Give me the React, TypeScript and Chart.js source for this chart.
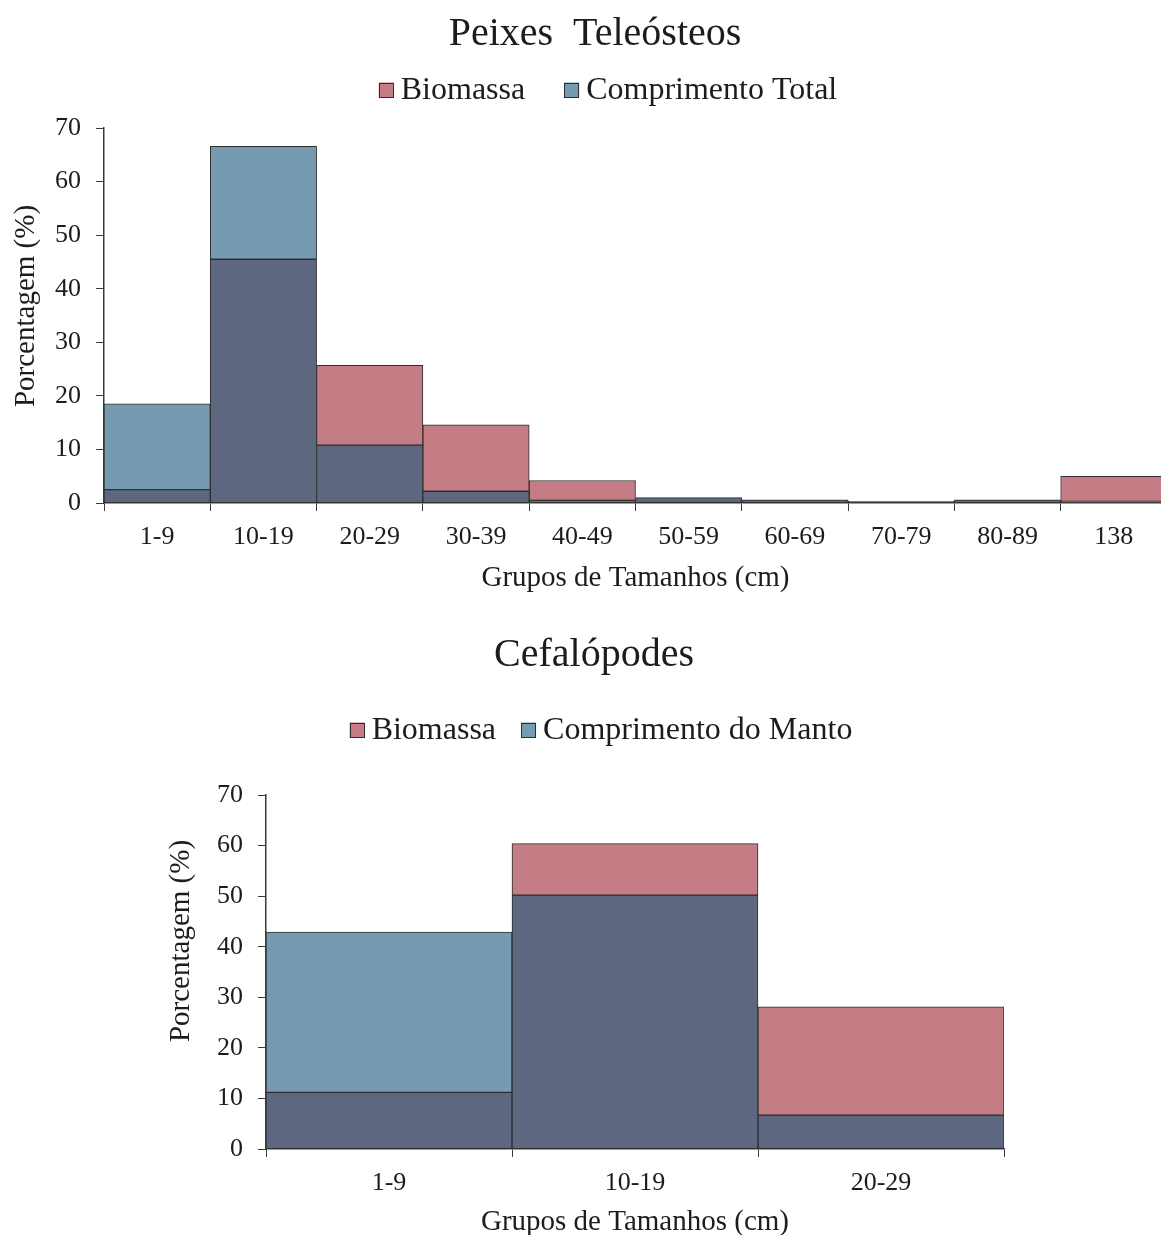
import { useEffect, useRef } from 'react';
import { Chart, registerables } from 'chart.js';

Chart.register(...registerables);

const SERIF = "'Liberation Serif', 'Times New Roman', serif";
const INK = '#1c1c1c';
const EDGE = '#2e2e2e';
const AXIS = '#3a3a3a';
const PINK = '#C47D84';
const BLUE = '#769AB0';
const OVERLAP = '#5E6780';

// Peixes teleósteos: size classes (cm) and percentages
const peixesGrupos = ['1-9', '10-19', '20-29', '30-39', '40-49', '50-59', '60-69', '70-79', '80-89', '138'];
const peixesBiomassa = [2.5, 45.5, 25.7, 14.6, 4.2, 1.0, 0.6, 0.3, 0.6, 5.0];
const peixesComprimento = [18.5, 66.6, 10.8, 2.2, 0.5, 1.0, 0.6, 0.3, 0.6, 0.3];

// Cefalópodes: size classes (cm) and percentages
const cefalGrupos = ['1-9', '10-19', '20-29'];
const cefalBiomassa = [11.2, 60.4, 28.1];
const cefalManto = [42.9, 50.2, 6.7];

const Y_MIN = 0;
const Y_MAX = 70;
const Y_STEP = 10;

// Two overlapping histograms: the shared part is drawn in a darker tone,
// the excess of each series on top in its own colour.
function overlapDatasets(bio: number[], len: number[], lenLabel: string) {
  const common = {
    borderColor: EDGE,
    borderWidth: 1,
    borderSkipped: false as const,
    barPercentage: 1,
    categoryPercentage: 1,
  };
  return [
    { ...common, label: 'Sobreposição', inLegend: false, backgroundColor: OVERLAP, data: bio.map((b, i) => Math.min(b, len[i])) },
    { ...common, label: 'Biomassa', backgroundColor: PINK, data: bio.map((b, i) => Math.max(b - len[i], 0)) },
    { ...common, label: lenLabel, backgroundColor: BLUE, data: len.map((c, i) => Math.max(c - bio[i], 0)) },
  ];
}

type Header = {
  title: string;
  titleX: number;
  titleY: number;
  legendX: number;
  legendY: number;
  legendGap: number;
  yTitle: string;
  yTitleX: number;
  yTitleY: number;
};

const headerPlugin = {
  id: 'cabecalho',
  afterDraw(chart: any, _args: any, opts: Header) {
    const ctx = chart.ctx as CanvasRenderingContext2D;
    ctx.save();
    ctx.fillStyle = INK;
    ctx.textBaseline = 'middle';

    ctx.font = `40px ${SERIF}`;
    ctx.textAlign = 'center';
    ctx.fillText(opts.title, opts.titleX, opts.titleY);

    // legend row
    ctx.font = `32px ${SERIF}`;
    ctx.textAlign = 'left';
    const items = chart.data.datasets.filter((d: any) => d.inLegend !== false);
    const box = 15;
    const boxGap = 7;
    const widths = items.map((d: any) => box + boxGap + ctx.measureText(d.label).width);
    const total = widths.reduce((a: number, b: number) => a + b, 0) + opts.legendGap * (items.length - 1);
    let x = opts.legendX - total / 2;
    items.forEach((d: any, i: number) => {
      ctx.fillStyle = d.backgroundColor;
      ctx.fillRect(x, opts.legendY - box / 2, box, box);
      ctx.strokeStyle = EDGE;
      ctx.lineWidth = 1;
      ctx.strokeRect(Math.round(x) + 0.5, Math.round(opts.legendY - box / 2) + 0.5, box - 1, box - 1);
      ctx.fillStyle = INK;
      ctx.fillText(d.label, x + box + boxGap, opts.legendY + 1);
      x += widths[i] + opts.legendGap;
    });

    // vertical axis title
    ctx.font = `29px ${SERIF}`;
    ctx.textAlign = 'center';
    ctx.translate(opts.yTitleX, opts.yTitleY);
    ctx.rotate(-Math.PI / 2);
    ctx.fillText(opts.yTitle, 0, 0);
    ctx.restore();
  },
};

type Spec = {
  labels: string[];
  datasets: any[];
  width: number;
  height: number;
  padding: { top: number; left: number; right: number; bottom: number };
  yWidth: number;
  xHeight: number;
  xTitlePad: number;
  xTickPad: number;
  header: Header;
};

function HistChart({ spec, top }: { spec: Spec; top: number }) {
  const ref = useRef<HTMLCanvasElement>(null);
  useEffect(() => {
    if (!ref.current) return;
    const chart = new Chart(ref.current, {
      type: 'bar',
      data: { labels: spec.labels, datasets: spec.datasets },
      plugins: [headerPlugin],
      options: {
        animation: false,
        responsive: false,
        devicePixelRatio: 1,
        layout: { padding: spec.padding },
        plugins: {
          legend: { display: false },
          title: { display: false },
          tooltip: { enabled: false },
          cabecalho: spec.header,
        } as any,
        scales: {
          x: {
            type: 'category',
            stacked: true,
            offset: true,
            grid: { offset: true, drawOnChartArea: false, drawTicks: true, tickLength: 8, color: AXIS, lineWidth: 1 },
            border: { display: true, color: AXIS, width: 1.5 },
            ticks: { color: INK, padding: spec.xTickPad, font: { family: SERIF, size: 26 }, maxRotation: 0, autoSkip: false },
            title: {
              display: true,
              text: 'Grupos de Tamanhos (cm)',
              color: INK,
              font: { family: SERIF, size: 29 },
              padding: { top: 0, bottom: spec.xTitlePad },
            },
            afterFit: (s: any) => {
              s.height = spec.xHeight;
            },
          },
          y: {
            type: 'linear',
            stacked: true,
            min: Y_MIN,
            max: Y_MAX,
            grid: { drawOnChartArea: false, drawTicks: true, tickLength: 8, color: AXIS, lineWidth: 1 },
            border: { display: true, color: AXIS, width: 1.5 },
            ticks: { stepSize: Y_STEP, color: INK, padding: 15, font: { family: SERIF, size: 26 } },
            afterFit: (s: any) => {
              s.width = spec.yWidth;
            },
          },
        },
      },
    });
    return () => chart.destroy();
  }, [spec]);
  return (
    <div style={{ position: 'absolute', left: 0, top, width: spec.width, height: spec.height }}>
      <canvas ref={ref} width={spec.width} height={spec.height} style={{ display: 'block' }} />
    </div>
  );
}

const peixesSpec: Spec = {
  labels: peixesGrupos,
  datasets: overlapDatasets(peixesBiomassa, peixesComprimento, 'Comprimento Total'),
  width: 1190,
  height: 600,
  padding: { top: 128, left: 0, right: 23, bottom: 0 },
  yWidth: 104,
  xHeight: 97,
  xTitlePad: 4.6,
  xTickPad: 10.5,
  header: {
    title: 'Peixes  Teleósteos',
    titleX: 595,
    titleY: 34,
    legendX: 608,
    legendY: 90,
    legendGap: 39,
    yTitle: 'Porcentagem (%)',
    yTitleX: 26,
    yTitleY: 306,
  },
};

const cefalSpec: Spec = {
  labels: cefalGrupos,
  datasets: overlapDatasets(cefalBiomassa, cefalManto, 'Comprimento do Manto'),
  width: 1161,
  height: 640,
  padding: { top: 195, left: 150, right: 157, bottom: 0 },
  yWidth: 116,
  xHeight: 91,
  xTitlePad: 0.6,
  xTickPad: 11,
  header: {
    title: 'Cefalópodes',
    titleX: 594,
    titleY: 55,
    legendX: 601,
    legendY: 130,
    legendGap: 25,
    yTitle: 'Porcentagem (%)',
    yTitleX: 181,
    yTitleY: 341,
  },
};

export default function App() {
  return (
    <div
      style={{
        position: 'absolute',
        left: 0,
        top: 0,
        width: 1161,
        height: 1235,
        overflow: 'hidden',
        background: '#ffffff',
      }}
    >
      <HistChart spec={peixesSpec} top={0} />
      <HistChart spec={cefalSpec} top={600} />
    </div>
  );
}
